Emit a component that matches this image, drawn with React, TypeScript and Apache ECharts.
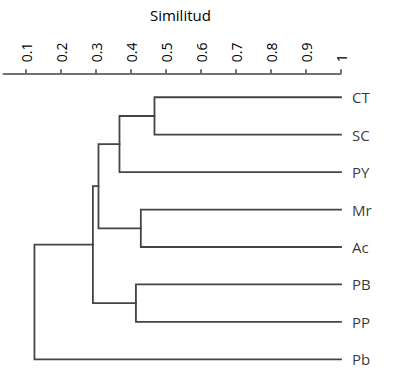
import React, { useEffect, useRef } from "react";
import * as echarts from "echarts";

const leaves = ["CT", "SC", "PY", "Mr", "Ac", "PB", "PP", "Pb"];
// merges: [childA, childB, similarity]; node ids >= leaves.length are prior merges
const merges: [number, number, number][] = [
  [0, 1, 0.467],
  [8, 2, 0.367],
  [3, 4, 0.428],
  [9, 10, 0.307],
  [5, 6, 0.414],
  [11, 12, 0.291],
  [13, 7, 0.124],
];
const tickValues = [0.1, 0.2, 0.3, 0.4, 0.5, 0.6, 0.7, 0.8, 0.9, 1];
const axisTitle = "Similitud";

const FONT = "'Open Sans', 'Noto Sans', sans-serif";
const LINE = "#444";
const TEXT = "#000";

export default function App() {
  const ref = useRef<HTMLDivElement>(null);
  useEffect(() => {
    if (!ref.current) return;
    const chart = echarts.init(ref.current, undefined, { renderer: "svg" });

    const height: number[] = leaves.map(() => 1);
    const pos: number[] = leaves.map((_, i) => i);
    const series: any[] = [];
    merges.forEach(([a, b, h]) => {
      series.push({
        type: "line",
        data: [
          [height[a], pos[a]],
          [h, pos[a]],
          [h, pos[b]],
          [height[b], pos[b]],
        ],
        symbol: "none",
        silent: true,
        lineStyle: { color: LINE, width: 1.8, cap: "square", join: "miter" },
      });
      height.push(h);
      pos.push((pos[a] + pos[b]) / 2);
    });
    series.push({
      type: "scatter",
      data: leaves.map((name, i) => ({ value: [1, i], name })),
      symbolSize: 0,
      silent: true,
      label: {
        show: true,
        position: "right",
        distance: 11,
        formatter: (p: any) => p.name,
        color: TEXT,
        fontSize: 15,
        fontFamily: FONT,
      },
    });

    chart.setOption({
      animation: false,
      grid: { left: 3.3, right: 54, top: 73.3, height: 299.5, containLabel: false },
      xAxis: {
        type: "value",
        position: "top",
        min: 0.035,
        max: 1,
        axisLine: { show: true, onZero: false, lineStyle: { color: LINE, width: 1.5 } },
        axisTick: {
          show: true,
          customValues: tickValues,
          length: 4,
          lineStyle: { color: LINE, width: 1.5 },
        },
        axisLabel: {
          customValues: tickValues,
          rotate: -90,
          margin: 11,
          fontSize: 14,
          color: TEXT,
          fontFamily: FONT,
          formatter: (v: number) => String(Math.round(v * 10) / 10),
        },
        splitLine: { show: false },
      },
      yAxis: {
        type: "value",
        inverse: true,
        min: -0.64,
        max: 7.36,
        show: false,
      },
      graphic: [
        {
          type: "text",
          x: 180.4,
          y: 15,
          style: {
            text: axisTitle,
            fontSize: 15,
            fontFamily: FONT,
            fill: TEXT,
            textAlign: "center",
            textVerticalAlign: "middle",
          },
        },
      ],
      series,
    });
    return () => chart.dispose();
  }, []);
  return (
    <div
      ref={ref}
      style={{ position: "fixed", left: 0, top: 0, width: 395, height: 380, background: "#fff" }}
    />
  );
}
